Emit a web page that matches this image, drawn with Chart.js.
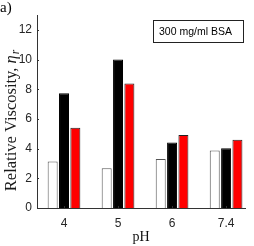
<!DOCTYPE html>
<html>
<head>
<meta charset="utf-8">
<script src="https://cdn.jsdelivr.net/npm/chart.js@4/dist/chart.umd.min.js"></script>
<style>
  html, body { margin: 0; padding: 0; background: #fff; }
  #wrap { width: 254px; height: 246px; }
</style>
</head>
<body>
<div id="wrap"><canvas id="viscChart"></canvas></div>
<script>
// chart data
var phLabels = ['4', '5', '6', '7.4'];
var groupPos = [1, 2, 3, 4];
var whiteVals = [3.13, 2.68, 3.30, 3.87];
var blackVals = [7.73, 10.0, 4.42, 4.02];
var redVals = [5.41, 8.38, 4.91, 4.60];
var yTicks = [0, 2, 4, 6, 8, 10, 12];
var boxText = '300 mg/ml BSA';
var panelLabel = 'a)';

var axisColor = '#333333';

function toPoints(vals) {
    return vals.map(function(v, i) { return { x: groupPos[i], y: v }; });
}

// panel letter, y title with subscript, inward ticks and the text box
var extrasPlugin = {
    id: 'extras',
    afterDraw: function(chart) {
        var c = chart.ctx;
        var area = chart.chartArea;
        var xs = chart.scales.x, ys = chart.scales.y;
        c.save();

        // small inward tick marks like the original
        c.strokeStyle = axisColor;
        c.lineWidth = 1;
        c.beginPath();
        yTicks.forEach(function(v) {
            var py = Math.round(ys.getPixelForValue(v)) + 0.5;
            c.moveTo(area.left, py);
            c.lineTo(area.left + 2, py);
        });
        groupPos.forEach(function(v) {
            var px = Math.round(xs.getPixelForValue(v)) + 0.5;
            c.moveTo(px, area.bottom);
            c.lineTo(px, area.bottom - 2);
        });
        c.stroke();

        c.fillStyle = '#000';
        c.font = '15px "Liberation Serif"';
        c.textBaseline = 'top';
        c.textAlign = 'left';
        c.fillText(panelLabel, 0, 1);

        // y axis title
        var main = 'Relative Viscosity, ';
        var fMain = '16.5px "Liberation Serif"';
        var fEta = 'italic 16.5px "Liberation Serif"';
        var fSub = 'italic 11.5px "Liberation Serif"';
        c.font = fMain; var w1 = c.measureText(main).width;
        c.font = fEta; var w2 = c.measureText('\u03b7').width;
        c.font = fSub; var w3 = c.measureText('r').width;
        var total = w1 + w2 + w3 + 1;
        c.translate(16, (area.top + area.bottom) / 2 + 9);
        c.rotate(-Math.PI / 2);
        c.textBaseline = 'alphabetic';
        c.fillStyle = '#1a1a1a';
        var x0 = -total / 2;
        c.font = fMain; c.fillText(main, x0, 0);
        c.font = fEta; c.fillText('\u03b7', x0 + w1, 0);
        c.font = fSub; c.fillText('r', x0 + w1 + w2 + 1, 3);
        c.setTransform(1, 0, 0, 1, 0, 0);

        // text box
        var bx = area.right - 92, by = area.top + 5, bw = 90, bh = 22;
        c.strokeStyle = '#222';
        c.strokeRect(bx + 0.5, by + 0.5, bw, bh);
        c.font = '10.5px "Liberation Sans"';
        c.textBaseline = 'middle';
        c.fillStyle = '#000';
        c.fillText(boxText, bx + 6, by + bh / 2 + 1);
        c.restore();
    }
};

var ctx = document.getElementById('viscChart').getContext('2d');
var viscChart = new Chart(ctx, {
    type: 'bar',
    data: {
        datasets: [
            { data: toPoints(whiteVals), backgroundColor: '#ffffff', borderColor: '#555', borderWidth: 1 },
            { data: toPoints(blackVals), backgroundColor: '#000000', borderColor: '#000', borderWidth: 1 },
            { data: toPoints(redVals), backgroundColor: '#ff0000', borderColor: '#222', borderWidth: 1 }
        ]
    },
    options: {
        responsive: true,
        maintainAspectRatio: false,
        animation: false,
        layout: { padding: { top: 15, right: 9, left: 0, bottom: 0 } },
        datasets: { bar: { categoryPercentage: 0.63, barPercentage: 0.88 } },
        plugins: {
            legend: { display: false },
            tooltip: { enabled: false }
        },
        scales: {
            x: {
                type: 'linear',
                min: 0.5,
                max: 4.35,
                offset: false,
                afterBuildTicks: function(scale) {
                    scale.ticks = groupPos.map(function(v) { return { value: v }; });
                },
                grid: { display: false, drawTicks: false },
                border: { display: true, color: axisColor, width: 1 },
                ticks: {
                    color: '#262626',
                    padding: 8,
                    font: { family: 'Liberation Sans', size: 12 },
                    callback: function(value) { return phLabels[groupPos.indexOf(value)]; }
                },
                title: {
                    display: true,
                    text: 'pH',
                    color: '#111',
                    padding: { top: 0, bottom: 0 },
                    font: { family: 'Liberation Serif', size: 14 }
                },
                afterFit: function(scale) { scale.height = 38; }
            },
            y: {
                min: 0,
                max: 13,
                afterBuildTicks: function(scale) {
                    scale.ticks = yTicks.map(function(v) { return { value: v }; });
                },
                grid: { display: false, drawTicks: false },
                border: { display: true, color: axisColor, width: 1 },
                ticks: {
                    color: '#262626',
                    padding: 5,
                    font: { family: 'Liberation Sans', size: 12 }
                },
                title: { display: false },
                afterFit: function(scale) { scale.width = 37; }
            }
        }
    },
    plugins: [extrasPlugin]
});
</script>
</body>
</html>
